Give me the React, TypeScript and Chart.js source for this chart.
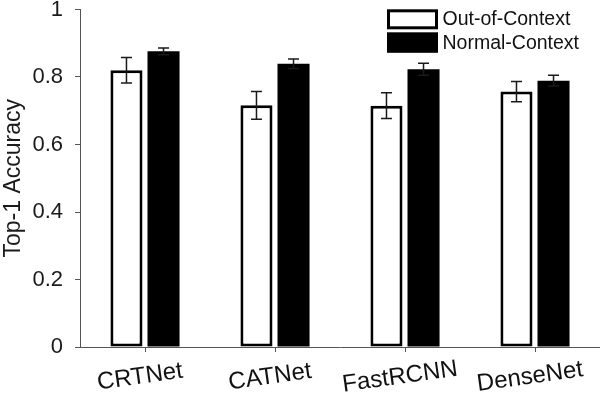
import React, { useEffect, useRef } from "react";
import { Chart, registerables } from "chart.js";

Chart.register(...registerables);

const FONT = "'Liberation Sans', Arial, Helvetica, sans-serif";

const categories = ["CRTNet", "CATNet", "FastRCNN", "DenseNet"];
const seriesLabels = ["Out-of-Context", "Normal-Context"];
const outOfContext = [0.82, 0.716, 0.715, 0.757];
const outOfContextErr = [0.038, 0.041, 0.038, 0.03];
const normalContext = [0.876, 0.839, 0.823, 0.789];
const normalContextErr = [0.01, 0.014, 0.018, 0.016];
const yMin = 0;
const yMax = 1;
const yStep = 0.2;
const yTitle = "Top-1 Accuracy";

const errorLists = [outOfContextErr, normalContextErr];

const errorBarPlugin = {
  id: "errorBars",
  afterDatasetsDraw(chart: any) {
    const ctx = chart.ctx;
    const y = chart.scales.y;
    errorLists.forEach((errs, di) => {
      const meta = chart.getDatasetMeta(di);
      meta.data.forEach((bar: any, i: number) => {
        const v = chart.data.datasets[di].data[i] as number;
        const yt = y.getPixelForValue(v + errs[i]);
        const yb = y.getPixelForValue(v - errs[i]);
        const cap = 5.5;
        ctx.save();
        ctx.strokeStyle = "#1a1a1a";
        ctx.lineWidth = 1.5;
        ctx.beginPath();
        ctx.moveTo(bar.x, yt);
        ctx.lineTo(bar.x, yb);
        ctx.moveTo(bar.x - cap, yt);
        ctx.lineTo(bar.x + cap, yt);
        ctx.moveTo(bar.x - cap, yb);
        ctx.lineTo(bar.x + cap, yb);
        ctx.stroke();
        ctx.restore();
      });
    });
  },
};

const xLabelPlugin = {
  id: "rotatedXLabels",
  afterDraw(chart: any) {
    const ctx = chart.ctx;
    const x = chart.scales.x;
    const angle = (-8 * Math.PI) / 180;
    categories.forEach((label, i) => {
      const px = x.getPixelForValue(i) - 5;
      ctx.save();
      ctx.translate(px, 377);
      ctx.rotate(angle);
      ctx.font = `24px ${FONT}`;
      ctx.fillStyle = "#111";
      ctx.textAlign = "center";
      ctx.textBaseline = "middle";
      ctx.fillText(label, 0, 0);
      ctx.restore();
    });
  },
};

const legendPlugin = {
  id: "boxLegend",
  afterDraw(chart: any) {
    const ctx = chart.ctx;
    const ds = chart.data.datasets;
    ctx.save();
    ctx.fillStyle = "#fff";
    ctx.fillRect(387, 9.3, 51, 20);
    ctx.strokeStyle = "#000";
    ctx.lineWidth = 3;
    ctx.strokeRect(388.5, 10.8, 48, 17);
    ctx.fillStyle = "#000";
    ctx.fillRect(387, 32.3, 51, 20.5);
    ctx.font = `19.5px ${FONT}`;
    ctx.fillStyle = "#111";
    ctx.textAlign = "left";
    ctx.textBaseline = "middle";
    ctx.fillText(ds[0].label, 442.5, 20);
    ctx.fillText(ds[1].label, 442.5, 43.2);
    ctx.restore();
  },
};

export default function App() {
  const ref = useRef<HTMLCanvasElement | null>(null);

  useEffect(() => {
    if (!ref.current) return;
    const chart = new Chart(ref.current, {
      type: "bar",
      data: {
        labels: categories,
        datasets: [
          {
            label: seriesLabels[0],
            data: outOfContext,
            backgroundColor: "#ffffff",
            borderColor: "#000000",
            borderWidth: 3,
            borderSkipped: false,
            categoryPercentage: 0.57,
            barPercentage: 0.865,
          },
          {
            label: seriesLabels[1],
            data: normalContext,
            backgroundColor: "#000000",
            borderColor: "#000000",
            borderWidth: 0,
            borderSkipped: false,
            categoryPercentage: 0.57,
            barPercentage: 0.865,
          },
        ],
      },
      options: {
        animation: false,
        responsive: true,
        maintainAspectRatio: false,
        layout: { padding: 0 },
        plugins: {
          legend: { display: false },
          tooltip: { enabled: false },
        },
        scales: {
          x: {
            offset: true,
            grid: {
              display: true,
              drawOnChartArea: false,
              offset: false,
              tickLength: 5,
              color: "#555",
            },
            border: { display: true, color: "#555", width: 1 },
            ticks: { display: false },
            afterFit(s: any) {
              s.height = 47;
              s.paddingLeft = 0;
              s.paddingRight = 0;
            },
          },
          y: {
            min: yMin,
            max: yMax,
            ticks: {
              stepSize: yStep,
              font: { size: 22, family: FONT },
              color: "#1a1a1a",
              padding: 12,
              callback: (v: any) => String(parseFloat(Number(v).toFixed(1))),
            },
            grid: {
              drawOnChartArea: false,
              tickLength: 5,
              color: "#555",
            },
            border: { display: true, color: "#555", width: 1 },
            title: {
              display: true,
              text: yTitle,
              font: { size: 23, family: FONT },
              color: "#1a1a1a",
              padding: 0,
            },
            afterFit(s: any) {
              s.width = 80;
              s.paddingTop = 9.5;
              s.paddingBottom = 0;
            },
          },
        },
      },
      plugins: [errorBarPlugin, xLabelPlugin, legendPlugin],
    } as any);
    return () => chart.destroy();
  }, []);

  return (
    <div
      style={{
        position: "fixed",
        left: 0,
        top: 0,
        width: 600,
        height: 394,
        background: "#fff",
      }}
    >
      <canvas ref={ref} />
    </div>
  );
}
